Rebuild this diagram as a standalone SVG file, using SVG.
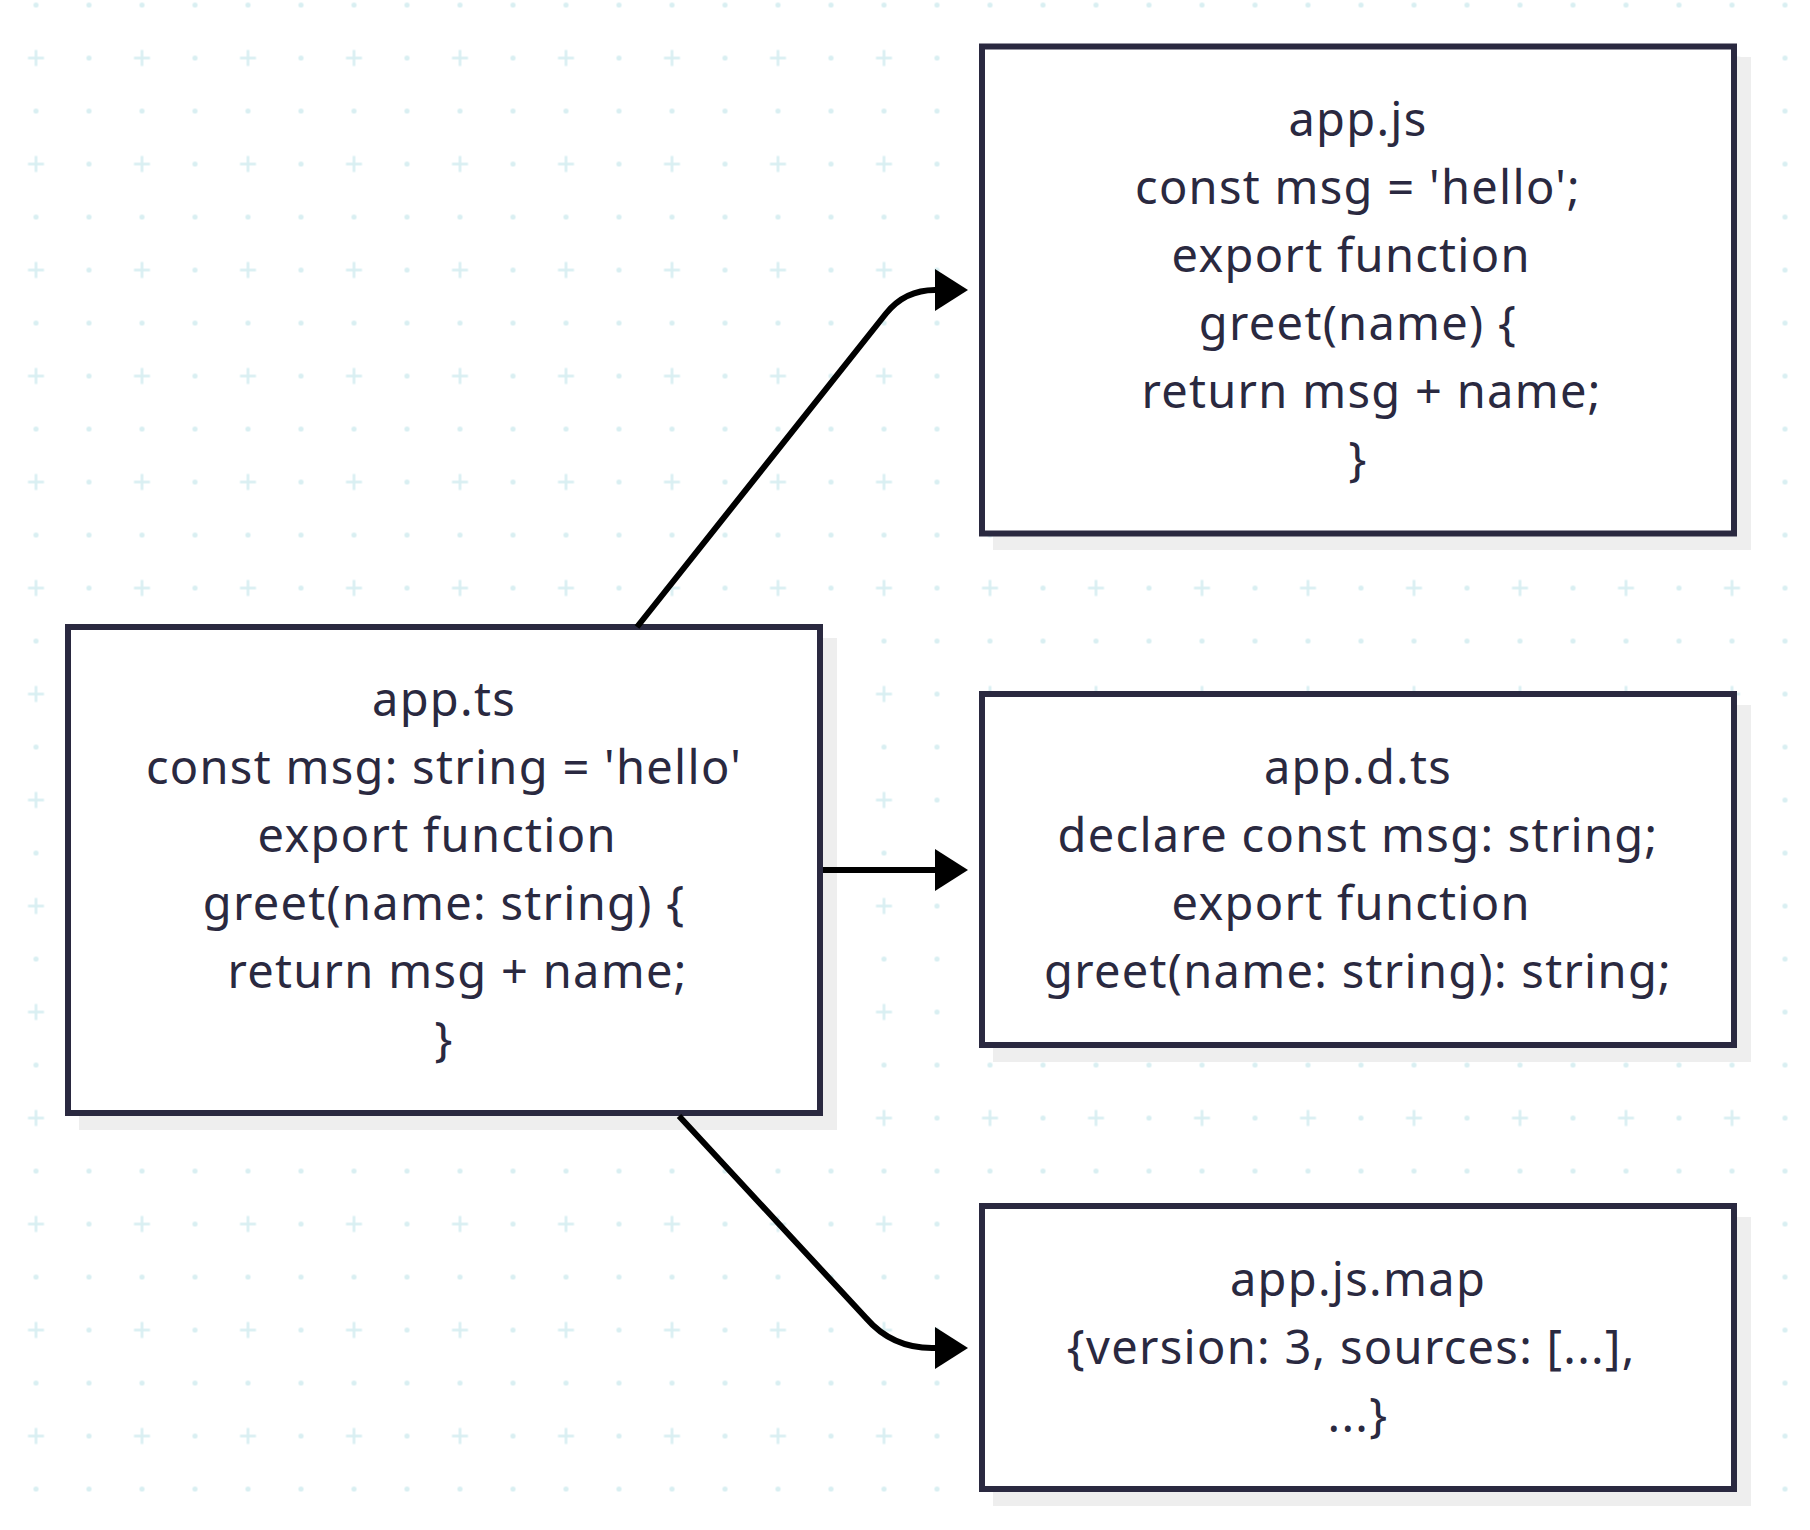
<svg xmlns="http://www.w3.org/2000/svg" width="1810" height="1530" viewBox="0 0 1810 1530">
<style>
.box{fill:#ffffff;stroke:#2a2940;stroke-width:6}
.shadow{fill:#eeeeee}
.lbl{font-family:"Noto Sans","Open Sans",sans-serif;font-size:47px;letter-spacing:1.3px;fill:#2a2940;text-anchor:middle;white-space:pre}
.conn{fill:none;stroke:#000000;stroke-width:6}
.g{fill:#d9eff2}
</style>
<defs>
<pattern id="grid" patternUnits="userSpaceOnUse" x="9.5" y="-21.5" width="106" height="106">
<circle class="g" cx="26.5" cy="26.5" r="2.6"/>
<circle class="g" cx="79.5" cy="26.5" r="2.6"/>
<circle class="g" cx="79.5" cy="79.5" r="2.6"/>
<rect class="g" x="18.5" y="78.2" width="16" height="2.7"/>
<rect class="g" x="25.15" y="71.5" width="2.7" height="16"/>
</pattern>
<marker id="arrow" markerUnits="userSpaceOnUse" markerWidth="34" markerHeight="44" viewBox="0 0 34 44" refX="5" refY="22" orient="auto">
<path d="M0,1 L33,22 L0,43 z" fill="#000000"/>
</marker>
</defs>
<rect width="1810" height="1530" fill="#ffffff"/>
<rect width="1810" height="1530" fill="url(#grid)"/>

<g id="node-app-ts">
<rect class="shadow" x="79" y="638" width="758" height="492"/>
<rect class="box" x="68" y="627" width="752" height="486"/>
<text class="lbl" x="444" y="716">app.ts</text>
<text class="lbl" x="444" y="784">const msg: string = 'hello'</text>
<text class="lbl" x="444" y="852">export function </text>
<text class="lbl" x="444" y="920">greet(name: string) {</text>
<text class="lbl" x="444" y="988">  return msg + name;</text>
<text class="lbl" x="444" y="1056">}</text>
</g>

<g id="node-app-js">
<rect class="shadow" x="993" y="57" width="758" height="493"/>
<rect class="box" x="982" y="46.5" width="752" height="487"/>
<text class="lbl" x="1358" y="136">app.js</text>
<text class="lbl" x="1358" y="204">const msg = 'hello';</text>
<text class="lbl" x="1358" y="272">export function </text>
<text class="lbl" x="1358" y="340">greet(name) {</text>
<text class="lbl" x="1358" y="408">  return msg + name;</text>
<text class="lbl" x="1358" y="476">}</text>
</g>

<g id="node-app-d-ts">
<rect class="shadow" x="993" y="705" width="758" height="357"/>
<rect class="box" x="982" y="694" width="752" height="351"/>
<text class="lbl" x="1358" y="784">app.d.ts</text>
<text class="lbl" x="1358" y="852">declare const msg: string;</text>
<text class="lbl" x="1358" y="920">export function </text>
<text class="lbl" x="1358" y="988">greet(name: string): string;</text>
</g>

<g id="node-app-js-map">
<rect class="shadow" x="993" y="1217" width="758" height="289"/>
<rect class="box" x="982" y="1206" width="752" height="283"/>
<text class="lbl" x="1358" y="1295.5">app.js.map</text>
<text class="lbl" x="1358" y="1363.5">{version: 3, sources: [...], </text>
<text class="lbl" x="1358" y="1431.5">...}</text>
</g>

<g id="connectors">
<path class="conn" d="M637,627 L886,313.5 Q905,290 935,290 L940,290" marker-end="url(#arrow)"/>
<path class="conn" d="M823,870 L940,870" marker-end="url(#arrow)"/>
<path class="conn" d="M679,1116 L866,1318 Q892,1348 932,1348 L940,1348" marker-end="url(#arrow)"/>
</g>
</svg>
